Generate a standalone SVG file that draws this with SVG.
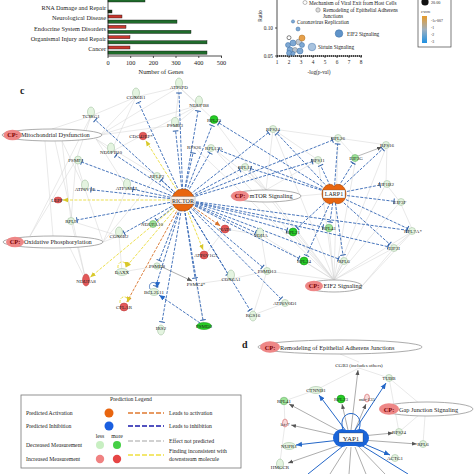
<svg xmlns="http://www.w3.org/2000/svg" width="474" height="474" viewBox="0 0 474 474">
<defs>
<style>
text{font-family:"Liberation Serif","Times New Roman",serif;fill:#222}
.nl{font-size:5px;text-anchor:middle}
.ax{font-size:6.3px}
.bl{font-size:5.3px}
.lt{font-size:5.7px}
.lg{fill:#e4f4e0;stroke:#97b894;stroke-width:.5}
.mg{fill:#9fe39a;stroke:#5aa65a;stroke-width:.5}
.g{fill:#25cc25;stroke:#138f13;stroke-width:.5}
.r{fill:#e25858;stroke:#b33;stroke-width:.5}
.gl{stroke:#d2d2d2;stroke-width:.5;fill:none}
.inh{stroke:#3467b4;stroke-width:.9;stroke-dasharray:3 1.4;fill:none;marker-end:url(#tee)}
.yel{stroke:#eadb3a;stroke-width:.9;stroke-dasharray:3 1.4;fill:none;marker-end:url(#ay)}
.org{stroke:#d8732a;stroke-width:.9;stroke-dasharray:3 1.4;fill:none;marker-end:url(#ao)}
.ga{stroke:#8a8a8a;stroke-width:.7;fill:none;marker-end:url(#ag)}
.ba{stroke:#2467c8;stroke-width:1;fill:none;marker-end:url(#ab)}
.bub{fill:#7ea8d3;stroke:#3b6ea5;stroke-width:.5}
.cp{fill:#fff;stroke:#888;stroke-width:.7}
.cpr{fill:#ee8787}
.cpt{font-size:6.3px;font-weight:bold;fill:#7a0000;text-anchor:middle}
.cpl{font-size:6.3px}
.gbar{fill:#1f6b2b;stroke:#111;stroke-width:.4}
.rbar{fill:#c8382f;stroke:#111;stroke-width:.4}
</style>
<marker id="tee" markerUnits="userSpaceOnUse" markerWidth="4" markerHeight="8" viewBox="-2 -4 4 8" refX="0" refY="0" orient="auto"><path d="M0,-2.8V2.8" stroke="#2d5fa8" stroke-width="1"/></marker>
<marker id="ay" markerUnits="userSpaceOnUse" markerWidth="6" markerHeight="6" viewBox="0 -3 6 6" refX="5" refY="0" orient="auto"><path d="M0,-2.3L5.5,0L0,2.3z" fill="#d8c82a"/></marker>
<marker id="ao" markerUnits="userSpaceOnUse" markerWidth="6" markerHeight="6" viewBox="0 -3 6 6" refX="5" refY="0" orient="auto"><path d="M0,-2.3L5.5,0L0,2.3z" fill="#d8732a"/></marker>
<marker id="ag" markerUnits="userSpaceOnUse" markerWidth="6" markerHeight="6" viewBox="0 -3 6 6" refX="5" refY="0" orient="auto"><path d="M0,-2L5,0L0,2z" fill="#555"/></marker>
<marker id="ab" markerUnits="userSpaceOnUse" markerWidth="7" markerHeight="7" viewBox="0 -3 7 6" refX="6" refY="0" orient="auto"><path d="M0,-2.5L6,0L0,2.5z" fill="#2467c8"/></marker>
<linearGradient id="zg" x1="0" y1="0" x2="0" y2="1"><stop offset="0" stop-color="#e79a2a"/><stop offset=".5" stop-color="#9fb0bf"/><stop offset="1" stop-color="#1e90e2"/></linearGradient>
</defs>
<rect width="474" height="474" fill="#fff"/>

<!-- Panel a: bar chart -->
<g id="barchart">
<rect class="gbar" x="108" y="-2" width="37" height="4"/>
<rect x="108" y="10" width="4" height="3" fill="#1a3a1a" stroke="#111" stroke-width=".4"/>
<rect class="rbar" x="108" y="15" width="14" height="3"/>
<rect class="gbar" x="108" y="20" width="69" height="3.2"/>
<rect class="rbar" x="108" y="25.3" width="18" height="3"/>
<rect class="gbar" x="108" y="30.3" width="83" height="3.2"/>
<rect class="rbar" x="108" y="35.7" width="22" height="3"/>
<rect class="gbar" x="108" y="40.7" width="99" height="3.2"/>
<rect class="rbar" x="108" y="46" width="22" height="3"/>
<rect class="gbar" x="108" y="51" width="99" height="3.2"/>
<path d="M108,0V56H222M108,56v2M130.7,56v2M153.4,56v2M176,56v2M198.8,56v2M221.5,56v2" stroke="#222" stroke-width=".8" fill="none"/>
<g class="ax" text-anchor="end">
<text x="106" y="9.5">RNA Damage and Repair</text>
<text x="106" y="20">Neurological Disease</text>
<text x="106" y="30.5">Endocrine System Disorders</text>
<text x="106" y="41">Organismal Injury and Repair</text>
<text x="106" y="51">Cancer</text>
</g>
<g class="ax" text-anchor="middle" font-size="6px">
<text x="108" y="64.5">0</text><text x="130.7" y="64.5">100</text><text x="153.4" y="64.5">200</text><text x="176" y="64.5">300</text><text x="198.8" y="64.5">400</text><text x="221.5" y="64.5">500</text>
<text x="161" y="74">Number of Genes</text>
</g>
</g>

<!-- Panel b: bubble chart -->
<g id="bubblechart">
<path d="M277,0V56H362M275,28h2M275,56h2M277,56v2M289,56v2M301,56v2M313,56v2M325,56v2M337,56v2M349,56v2M361,56v2" stroke="#222" stroke-width=".8" fill="none"/>
<path d="M277,56H362" stroke="#222" stroke-width="1.3" stroke-dasharray="1 1"/>
<text class="bl" x="273" y="30" text-anchor="end" font-size="4.8px">0.10</text>
<text class="bl" x="273" y="58" text-anchor="end" font-size="4.8px">0.05</text>
<text class="bl" transform="translate(262,16) rotate(-90)" text-anchor="middle">Ratio</text>
<g class="bl" text-anchor="middle" font-size="5px">
<text x="277" y="64">1</text><text x="289" y="64">2</text><text x="301" y="64">3</text><text x="313" y="64">4</text><text x="325" y="64">5</text><text x="337" y="64">6</text><text x="349" y="64">7</text><text x="361" y="64">8</text>
</g>
<text class="bl" x="319" y="74" text-anchor="middle" font-size="5.5px">-log(p-val)</text>
<circle cx="305" cy="2.5" r="2" fill="#fff" stroke="#777" stroke-width=".5"/>
<text class="bl" x="309" y="4.6">Mechanism of Viral Exit from Host Cells</text>
<circle cx="318" cy="10" r="2.2" fill="#ddd" stroke="#777" stroke-width=".5"/>
<text class="bl" x="323" y="11.5">Remodeling of Epithelial Adherens</text>
<text class="bl" x="323" y="18">Junctions</text>
<circle class="bub" cx="293" cy="21.5" r="1.6"/>
<text class="bl" x="297" y="23.5">Coronavirus Replication</text>
<circle cx="339" cy="33.5" r="3.8" fill="#5f93c9" stroke="#3b6ea5" stroke-width=".5"/>
<text class="bl" x="347" y="35.5">EIF2 Signaling</text>
<circle cx="312" cy="47" r="3.8" fill="#a9c3de" stroke="#4a7ab0" stroke-width=".5"/>
<text class="bl" x="318" y="49">Sirtuin Signaling</text>
<circle class="bub" cx="298" cy="29" r="2"/>
<circle cx="289" cy="37.7" r="2" fill="#fff" stroke="#333" stroke-width=".6"/>
<circle class="bub" cx="288" cy="45" r="2.5"/>
<circle class="bub" cx="293" cy="43" r="3"/>
<circle cx="299" cy="42" r="3" fill="#c0c8d0" stroke="#777" stroke-width=".5"/>
<circle cx="302" cy="38" r="3" fill="#e6a04a" stroke="#b07020" stroke-width=".5"/>
<circle class="bub" cx="302" cy="45" r="2.5"/>
<circle class="bub" cx="290" cy="50" r="3"/>
<circle cx="295" cy="50" r="2.5" fill="#b9c4ce" stroke="#777" stroke-width=".5"/>
<circle class="bub" cx="300" cy="51" r="3"/>
<circle class="bub" cx="289" cy="53" r="2.5"/>
<circle class="bub" cx="293" cy="53.5" r="2"/>
<rect x="418" y="-2" width="33" height="49" fill="#fff" stroke="#444" stroke-width=".7"/>
<circle cx="425" cy="2" r="3.6" fill="#111"/>
<text x="431" y="4" font-size="4.2px">20.00</text>
<text x="421" y="12.5" font-size="3.3px">z-score</text>
<rect x="422" y="16" width="5" height="27" fill="url(#zg)"/>
<g font-size="3.8px"><text x="431" y="21.5">-1e-007</text><text x="431" y="29">-1</text><text x="431" y="36">-2</text><text x="431" y="43">-3</text></g>
</g>

<text x="20" y="94" font-size="10px" font-weight="bold">c</text>
<text x="242" y="348" font-size="10px" font-weight="bold">d</text>

<!-- Connectors -->
<g id="connectors">
<path class="gl" d="M100,135L136,97M100,135L179,87M100,135L199,105M100,135L175,125M96,139L111,152M96,139L127,188M96,139L157,176M62,141L85,189M62,141L71,221M55,141L86,281M45,141L53,236M91,116L136,97M91,116L76,160M91,116L52,129M103,242L119,236M103,242L85,189M103,242L127,188M103,242L157,176M70,248L86,281M30,236L76,160M30,236L91,116M179,87L136,97M179,87L199,105M179,87L175,125M179,87L214,120M136,97L111,152M199,105L175,125M199,105L111,152M76,160L71,221M76,160L85,189M71,221L119,236M71,221L86,281M122,272L119,236M122,272L157,266M196,284L231,279M196,284L204,326M231,279L267,271M267,271L253,315M253,315L285,303M261,235L225,229M261,235L267,271M225,229L205,255M334,280L293,232M334,280L329,228M334,280L304,261M334,280L344,261M334,280L394,248M334,280L413,231M334,280L318,160M334,280L338,138M334,280L273,129M334,280L356,158M334,280L245,167M334,280L386,184M334,280L400,202M334,280L387,145M334,280L213,148M334,280L194,147M334,280L214,120M334,280L261,235M334,280L267,271M266,190L273,129M266,190L245,167M266,190L213,148M266,190L318,160M300,196L322,194M273,129L338,138M273,129L318,160M338,138L387,145M338,138L356,158M387,145L386,184M386,184L400,202M400,202L413,231M413,231L394,248M362,286L394,248M362,286L413,231"/>
<path d="M358,156L382,147" stroke="#888" stroke-width=".6" marker-end="url(#ag)"/>
<path class="ga" d="M162,267L192,281"/>
<!-- RICTOR inhibition -->
<path class="inh" d="M183,200L179,93"/>
<path class="inh" d="M183,200L138.5,102.5"/>
<path class="inh" d="M183,200L198,111"/>
<path class="inh" d="M183,200L95.4,120"/>
<path class="inh" d="M183,200L212,125.6"/>
<path class="inh" d="M183,200L175.6,131"/>
<path class="inh" d="M183,200L193,153"/>
<path class="inh" d="M183,200L210,153"/>
<path class="inh" d="M183,200L116,155.3"/>
<path class="inh" d="M183,200L81.6,162"/>
<path class="inh" d="M183,200L161.4,180"/>
<path class="inh" d="M183,200L91,189.7"/>
<path class="inh" d="M183,200L133,189.3"/>
<path class="inh" d="M183,200L77,220"/>
<path class="inh" d="M183,200L156.7,220.3"/>
<path class="inh" d="M183,200L124.2,233"/>
<path class="inh" d="M183,200L159.2,260.4"/>
<path class="inh" d="M183,200L155.8,286.2"/>
<path class="inh" d="M183,200L162,322"/>
<path class="inh" d="M183,200L203,320"/>
<path class="inh" d="M183,200L195,278"/>
<path class="inh" d="M183,200L228,274"/>
<path class="inh" d="M183,200L250,310"/>
<path class="inh" d="M183,200L262.4,267"/>
<path class="inh" d="M183,200L280.8,298.7"/>
<path class="inh" d="M183,200L255.5,232.5"/>
<path class="inh" d="M183,200L287,230.3"/>
<path class="inh" d="M183,200L323,227"/>
<path class="inh" d="M183,200L407,230.2"/>
<path class="inh" d="M183,200L388,246.7"/>
<path class="inh" d="M183,200L338.4,258.9"/>
<path class="inh" d="M183,200L298.7,258.3"/>
<path class="inh" d="M183,200L239.7,169.8"/>
<path class="inh" d="M183,200L268.3,132.7"/>
<path class="inh" d="M183,200L312.2,161.7"/>
<path class="inh" d="M183,200L332.4,140.2"/>
<!-- LARP1 inhibition -->
<path class="inh" d="M334,194L219,123"/>
<path class="inh" d="M334,194L218.6,150"/>
<path class="inh" d="M334,194L277,133.4"/>
<path class="inh" d="M334,194L250.7,168.7"/>
<path class="inh" d="M334,194L320.6,165.4"/>
<path class="inh" d="M334,194L337.6,144"/>
<path class="inh" d="M334,194L353,163"/>
<path class="inh" d="M334,194L382.6,149"/>
<path class="inh" d="M334,194L380,185"/>
<path class="inh" d="M334,194L394,201.3"/>
<path class="inh" d="M334,194L407.6,228.5"/>
<path class="inh" d="M334,194L389.5,244"/>
<path class="inh" d="M334,194L343,255"/>
<path class="inh" d="M334,194L330,222"/>
<path class="inh" d="M334,194L297.4,228"/>
<path class="inh" d="M334,194L306.5,255.5"/>
<!-- yellow / orange -->
<path class="yel" d="M183,200L146,141"/>
<path class="yel" d="M183,200L63,200"/>
<path class="yel" d="M183,200L90.6,277"/>
<path class="yel" d="M183,200L126,267"/>
<path class="yel" d="M183,200L203,249.5"/>
<path class="org" d="M183,200L220,225.6"/>
<path class="org" d="M183,200L127,301.7"/>
<path class="yel" d="M118,268c-1,-8 9,-8 8,-1"/>
<path class="yel" d="M120,303c-1,-8 9,-8 8,-1"/>
<path d="M200,323L159,295" stroke="#3467b4" stroke-width=".9" stroke-dasharray="3 1.4" fill="none" marker-end="url(#ab)"/>
<path d="M150,289c-3,-8 8,-9 7,-1" stroke="#3467b4" stroke-width=".8" fill="none" marker-end="url(#ab)"/>
<!-- panel d -->
<path class="gl" d="M316,390L359,368M389,378L359,368M284,401L316,390M399,432L420,414M389,378L420,404M423,444L425,416M285,424L280,462M340,354L359,362M389,378L399,432M284,401L285,424"/>
<path class="ga" d="M351,430L358,370"/>
<path class="ga" d="M348,430L342,404"/>
<path class="ga" d="M355,430L366,404"/>
<path class="ga" d="M343,433L289,404"/>
<path class="ga" d="M340,436L291,425"/>
<path class="ga" d="M362,436L393,433"/>
<path class="ga" d="M362,440L417,444"/>
<path class="ga" d="M343,444L288,463"/>
<path class="ba" d="M355,430L386,383"/>
<path class="ba" d="M346,431L319,395"/>
<path class="ba" d="M340,440L296,445"/>
<path class="ba" d="M362,443L390,455"/>
<path d="M343,430C336,408 366,408 359,430" stroke="#2467c8" stroke-width="1" fill="none"/>
<path d="M343,446L308,474M361,445L408,474" stroke="#2467c8" stroke-width="1" fill="none"/>
<path d="M347,447L330,474M351,447L349,474M355,447L366,474M358,446L385,474" stroke="#8a8a8a" stroke-width=".7" fill="none"/>
</g>

<!-- CP ellipses -->
<g id="cp-mito"><ellipse class="cp" cx="52" cy="135" rx="50" ry="6"/><ellipse class="cpr" cx="12.5" cy="135" rx="9" ry="5.3"/><text class="cpt" x="12.5" y="137.3">CP:</text><text class="cpl" x="21" y="137.3">Mitochondrial Dysfunction</text></g>
<g id="cp-oxphos"><ellipse class="cp" cx="53" cy="242" rx="50" ry="6"/><ellipse class="cpr" cx="15" cy="242" rx="9" ry="5.3"/><text class="cpt" x="15" y="244.3">CP:</text><text class="cpl" x="24" y="244.3">Oxidative Phosphorylation</text></g>
<g id="cp-mtor"><ellipse class="cp" cx="266" cy="196" rx="35" ry="6"/><ellipse class="cpr" cx="240" cy="196" rx="9" ry="5.3"/><text class="cpt" x="240" y="198.3">CP:</text><text class="cpl" x="249.5" y="198.3">mTOR Signaling</text></g>
<g id="cp-eif2"><ellipse class="cp" cx="334" cy="286" rx="28" ry="6"/><ellipse class="cpr" cx="314" cy="286" rx="9" ry="5.3"/><text class="cpt" x="314" y="288.3">CP:</text><text class="cpl" x="323.5" y="288.3">EIF2 Signaling</text></g>
<g id="cp-remodel"><ellipse class="cp" cx="340" cy="347" rx="82" ry="7"/><ellipse class="cpr" cx="270" cy="347" rx="10" ry="5.8"/><text class="cpt" x="270" y="349.5" font-size="6.8px">CP:</text><text class="cpl" x="280" y="349.5" font-size="6.8px">Remodeling of Epithelial Adherens Junctions</text></g>
<g id="cp-gap"><ellipse class="cp" cx="427" cy="409" rx="46" ry="7"/><ellipse class="cpr" cx="389" cy="409" rx="10" ry="5.8"/><text class="cpt" x="389" y="411.5" font-size="6.8px">CP:</text><text class="cpl" x="399" y="411.5" font-size="6.8px">Gap Junction Signaling</text></g>

<!-- Panel c nodes -->
<g id="n-ATP5PD"><ellipse class="lg" cx="179" cy="83" rx="3.5" ry="5"/><text class="nl" x="179" y="89">ATP5PD</text></g>
<g id="n-COX6B1"><ellipse class="lg" cx="136" cy="93" rx="3.5" ry="5"/><text class="nl" x="136" y="99">COX6B1</text></g>
<g id="n-NDUFB8"><ellipse class="lg" cx="199" cy="101" rx="3.5" ry="5"/><text class="nl" x="199" y="107">NDUFB8</text></g>
<g id="n-TCIRG1"><ellipse class="lg" cx="91" cy="112" rx="3.5" ry="5"/><text class="nl" x="91" y="118">TCIRG1</text></g>
<g id="n-RPL23c"><circle class="g" cx="214" cy="119.5" r="4"/><text class="nl" x="214" y="122">RPL23</text></g>
<g id="n-PSMB3"><ellipse class="lg" cx="175" cy="122" rx="3.5" ry="4.5"/><text class="nl" x="175" y="127">PSMB3</text></g>
<g id="n-CDC42EP"><circle class="r" cx="143" cy="136" r="3.8"/><text class="nl" x="141" y="138">CDC42EP*</text></g>
<g id="n-RPS26"><text class="nl" x="194" y="149">RPS26</text></g>
<g id="n-RPL13A"><circle class="lg" cx="211" cy="148" r="3.5"/><text class="nl" x="214" y="150">RPL13A</text></g>
<g id="n-RPS24c"><circle class="lg" cx="273" cy="129" r="3.5"/><text class="nl" x="273" y="131">RPS24</text></g>
<g id="n-RPL26"><circle class="lg" cx="338" cy="138" r="3.5"/><text class="nl" x="338" y="140">RPL26</text></g>
<g id="n-RPS16"><circle class="lg" cx="386" cy="145" r="3.5"/><text class="nl" x="387" y="147">RPS16</text></g>
<g id="n-EIF3G"><circle class="mg" cx="355" cy="158" r="3.5"/><text class="nl" x="356" y="160">EIF3G</text></g>
<g id="n-RPS11"><circle class="lg" cx="318" cy="160" r="3.5"/><text class="nl" x="318" y="162">RPS11</text></g>
<g id="n-NDUFB10"><ellipse class="lg" cx="111" cy="148" rx="3.5" ry="5"/><text class="nl" x="111" y="154">NDUFB10</text></g>
<g id="n-PSMF1"><ellipse class="lg" cx="78" cy="160" rx="3.5" ry="4"/><text class="nl" x="76" y="162">PSMF1</text></g>
<g id="n-RPL12"><circle class="lg" cx="245" cy="167" r="3.5"/><text class="nl" x="245" y="169">RPL12</text></g>
<g id="n-RPLP2"><circle class="lg" cx="157" cy="176" r="3.5"/><text class="nl" x="157" y="178">RPLP2</text></g>
<g id="n-EIF1B2"><circle class="lg" cx="387" cy="184" r="3.5"/><text class="nl" x="386" y="186">EIF1B2</text></g>
<g id="n-ATP6V1E"><ellipse class="lg" cx="85" cy="185" rx="3.5" ry="5"/><text class="nl" x="85" y="191">ATP6V1E</text></g>
<g id="n-ATP5MGL"><ellipse class="lg" cx="127" cy="184" rx="3.5" ry="5"/><text class="nl" x="127" y="190">ATP5MGL</text></g>
<g id="n-LEPP"><ellipse class="r" cx="58" cy="200" rx="4" ry="3"/><text class="nl" x="57" y="202">LEPP</text></g>
<g id="n-EIF3F"><circle class="lg" cx="401" cy="202" r="3.5"/><text class="nl" x="400" y="204">EIF3F</text></g>
<g id="n-RPL9"><circle class="lg" cx="71" cy="221" r="3.5"/><text class="nl" x="71" y="223">RPL9</text></g>
<g id="n-NDUFA10"><circle class="mg" cx="153" cy="224" r="3.5"/><text class="nl" x="152" y="226">NDUFA10</text></g>
<g id="n-NAT8"><circle class="r" cx="225" cy="229" r="4"/><text class="nl" x="225" y="231">NAT8</text></g>
<g id="n-RPL21"><circle class="g" cx="293" cy="232" r="4"/><text class="nl" x="293" y="234">RPL21</text></g>
<g id="n-RPL41c"><circle class="mg" cx="329" cy="228" r="3.8"/><text class="nl" x="329" y="230">RPL41</text></g>
<g id="n-RPL7A"><circle class="lg" cx="412" cy="231" r="3.5"/><text class="nl" x="413" y="233">RPL7A*</text></g>
<g id="n-SDHA"><ellipse class="lg" cx="260" cy="233" rx="3.5" ry="5"/><text class="nl" x="261" y="237">SDHA</text></g>
<g id="n-COX6B2"><ellipse class="lg" cx="119" cy="232" rx="3.5" ry="5"/><text class="nl" x="119" y="238">COX6B2</text></g>
<g id="n-EIF3I"><circle class="lg" cx="394" cy="248" r="3.5"/><text class="nl" x="394" y="250">EIF3I</text></g>
<g id="n-ATP6V1G1"><circle class="r" cx="204" cy="255" r="4"/><text class="nl" x="206" y="257">ATP6V1G1</text></g>
<g id="n-RPL34"><circle class="g" cx="304" cy="261" r="4"/><text class="nl" x="304" y="263">RPL34</text></g>
<g id="n-RPL6c"><circle class="lg" cx="344" cy="261" r="3.5"/><text class="nl" x="344" y="263">RPL6</text></g>
<g id="n-PSMD13"><circle class="lg" cx="267" cy="271" r="3.5"/><text class="nl" x="267" y="273">PSMD13</text></g>
<g id="n-DAXX"><ellipse class="lg" cx="122" cy="272" rx="6" ry="3.5"/><text class="nl" x="122" y="274">DAXX</text></g>
<g id="n-PSMD8"><circle class="lg" cx="157" cy="266" r="3.2"/><text class="nl" x="157" y="268">PSMD8</text></g>
<g id="n-COX6A1"><ellipse class="lg" cx="231" cy="275" rx="3.5" ry="5"/><text class="nl" x="231" y="281">COX6A1</text></g>
<g id="n-NDUFA8"><ellipse class="r" cx="86" cy="280" rx="3.5" ry="6"/><text class="nl" x="86" y="283">NDUFA8</text></g>
<g id="n-PSMC4"><text class="nl" x="196" y="286">PSMC4*</text></g>
<g id="n-BCL2L11"><ellipse class="lg" cx="154" cy="292" rx="5" ry="3.5"/><text class="nl" x="154" y="294">BCL2L11</text></g>
<g id="n-ATP6V0D1"><circle class="lg" cx="285" cy="303" r="3.5"/><text class="nl" x="285" y="305">ATP6V0D1</text></g>
<g id="n-CFLAR"><circle class="r" cx="124" cy="307" r="4"/><text class="nl" x="124" y="309">CFLAR</text></g>
<g id="n-RGS16"><ellipse class="lg" cx="253" cy="316" rx="3.5" ry="5"/><text class="nl" x="253" y="317">RGS16</text></g>
<g id="n-IRS2"><ellipse class="lg" cx="161" cy="330" rx="3.5" ry="5"/><text class="nl" x="161" y="330">IRS2</text></g>
<g id="n-PSMD3"><ellipse class="g" cx="204" cy="326" rx="7.5" ry="3.5"/><text class="nl" x="204" y="328">PSMD3</text></g>

<g id="n-RICTOR"><circle cx="183" cy="200" r="11" fill="#e8650f" stroke="#b04a00" stroke-width=".6"/><rect x="171" y="196.5" width="24" height="7.5" fill="#fff" fill-opacity=".9" stroke="#555" stroke-width=".3"/><text x="183" y="202.5" font-size="6px" text-anchor="middle">RICTOR</text></g>
<g id="n-LARP1"><path d="M322,194C322,184 333,182 334,187C335,182 346,184 346,194C346,204 335,206 334,201C333,206 322,204 322,194Z" fill="#e8650f" stroke="#b04a00" stroke-width=".6"/><rect x="323" y="190" width="22" height="8" fill="#fff" stroke="#555" stroke-width=".3"/><text x="334" y="196.2" font-size="6px" text-anchor="middle">LARP1</text></g>

<!-- Panel d nodes -->
<g id="d-CGB3"><text class="nl" x="359" y="367" font-size="4.6px">CGB3 (includes others)</text></g>
<g id="d-TUBB"><circle class="lg" cx="389" cy="378" r="3.5"/><text class="nl" x="389" y="380">TUBB</text></g>
<g id="d-CTNNB1"><ellipse class="lg" cx="316" cy="390" rx="7" ry="3.5"/><text class="nl" x="316" y="392">CTNNB1</text></g>
<g id="d-RPL23"><circle class="g" cx="341" cy="399" r="4"/><text class="nl" x="341" y="401">RPL23</text></g>
<g id="d-mir135"><ellipse cx="367" cy="398" rx="2.5" ry="4" fill="#f6dada" stroke="#c44" stroke-width=".5"/><text class="nl" x="367" y="401">mir-135</text></g>
<g id="d-RPL41"><circle class="mg" cx="284" cy="401" r="3.8"/><text class="nl" x="284" y="403">RPL41</text></g>
<g id="d-let7"><ellipse cx="285" cy="423" rx="2.5" ry="4" fill="#f6dada" stroke="#c44" stroke-width=".5"/><text class="nl" x="285" y="426">let-7</text></g>
<g id="d-RPS24"><circle class="lg" cx="399" cy="432" r="3.5"/><text class="nl" x="399" y="434">RPS24</text></g>
<g id="d-RPL6"><circle class="lg" cx="423" cy="444" r="3.5"/><text class="nl" x="423" y="446">RPL6</text></g>
<g id="d-NUPR1"><ellipse class="lg" cx="289" cy="446" rx="6.5" ry="3.5"/><text class="nl" x="289" y="448">NUPR1</text></g>
<g id="d-ACTG1"><circle class="lg" cx="395" cy="458" r="3.5"/><text class="nl" x="395" y="460">ACTG1</text></g>
<g id="d-HMGCR"><ellipse class="lg" cx="280" cy="464" rx="3.5" ry="5"/><text class="nl" x="280" y="469">HMGCR</text></g>
<g id="d-YAP1"><circle cx="342" cy="438" r="9" fill="#1a64d8"/><circle cx="360" cy="438" r="9" fill="#1a64d8"/><rect x="342" y="430" width="18" height="16" fill="#1a64d8"/><rect x="339" y="433" width="24" height="9" fill="#fff" stroke="#333" stroke-width=".3"/><text x="351" y="440.5" font-size="7px" text-anchor="middle">YAP1</text></g>

<!-- Legend -->
<g id="legend">
<rect x="21" y="395" width="220" height="73" fill="none" stroke="#777" stroke-width=".8"/>
<text class="lt" x="131" y="401" text-anchor="middle">Prediction Legend</text>
<text class="lt" x="26" y="415">Predicted Activation</text>
<text class="lt" x="26" y="428">Predicted Inhibition</text>
<text class="lt" x="100" y="437.5" text-anchor="middle">less</text>
<text class="lt" x="117" y="437.5" text-anchor="middle">more</text>
<text class="lt" x="26" y="447">Decreased Measurement</text>
<text class="lt" x="26" y="461">Increased Measurement</text>
<circle cx="109" cy="413" r="4.5" fill="#e8650f"/>
<circle cx="109" cy="426" r="4.5" fill="#1a5fe0"/>
<circle cx="100" cy="445" r="4" fill="#c8efc2"/>
<circle cx="117" cy="445" r="4" fill="#45d045"/>
<circle cx="100" cy="459" r="4.2" fill="#f08282"/>
<circle cx="117" cy="459" r="4.2" fill="#e64545"/>
<path d="M128,413H164" stroke="#e07a30" stroke-width="1.3" stroke-dasharray="5 2"/>
<path d="M128,426H164" stroke="#1a1aaa" stroke-width="1.3" stroke-dasharray="5 2"/>
<path d="M128,441H164" stroke="#999" stroke-width=".9" stroke-dasharray="5 2"/>
<path d="M128,455H164" stroke="#f0e040" stroke-width="1.3" stroke-dasharray="5 2"/>
<text class="lt" x="169" y="415">Leads to activation</text>
<text class="lt" x="169" y="428">Leads to inhibition</text>
<text class="lt" x="169" y="443">Effect not predicted</text>
<text class="lt" x="169" y="452.5">Finding inconsistent with</text>
<text class="lt" x="169" y="460.5">downstream molecule</text>
</g>
</svg>
